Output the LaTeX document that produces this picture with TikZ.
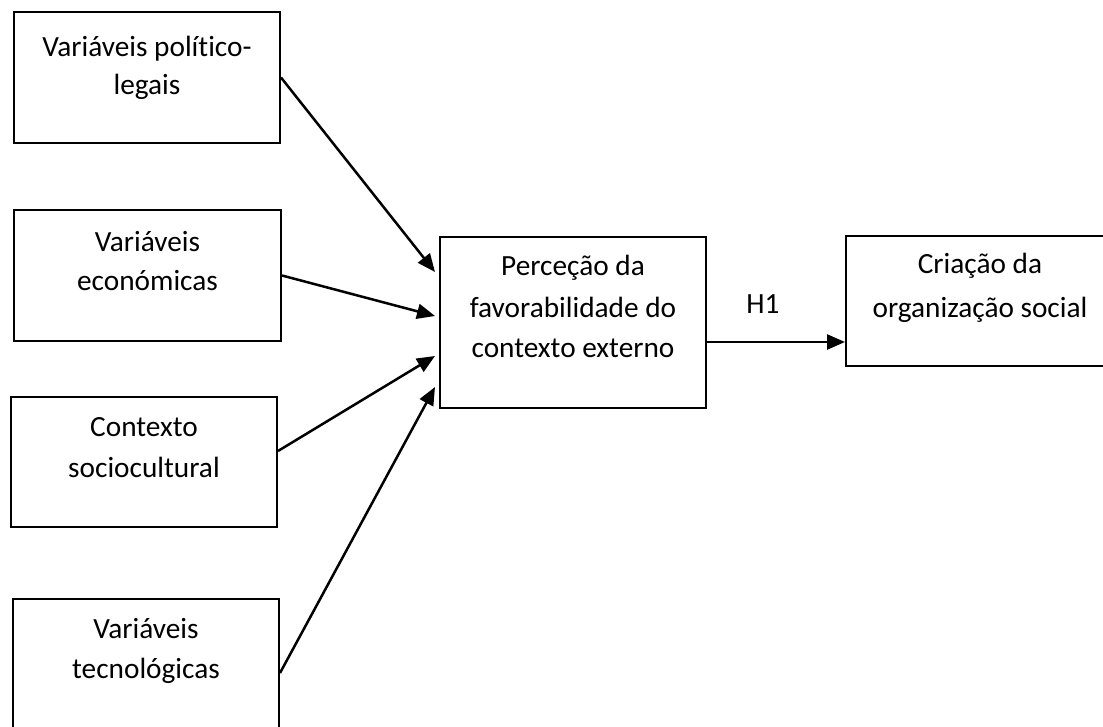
\documentclass[tikz,border=0pt]{standalone}
\usepackage{fontspec}
\setmainfont[Ligatures=NoCommon]{Carlito}
\usetikzlibrary{arrows.meta,calc}
\tikzset{
  box/.style={draw=black, line width=2pt, inner sep=0pt},
  txt/.style={anchor=base, inner sep=0pt, font=\fontsize{29.3}{40}\selectfont},
  arr/.style={line width=2.5pt, -{Triangle[length=18pt,width=15pt]}}
}
\begin{document}
\begin{tikzpicture}[x=1pt,y=-1pt]
\useasboundingbox (0,0) rectangle (1103,727);
% boxes
\node[box, minimum width=266pt, minimum height=131pt] (b1) at (147,77.5) {};
\node[box, minimum width=267pt, minimum height=131pt] (b2) at (147.5,275.5) {};
\node[box, minimum width=266pt, minimum height=130pt] (b3) at (144,462) {};
\node[box, minimum width=266pt, minimum height=148pt] (b4) at (146,673) {};
\node[box, minimum width=266pt, minimum height=171pt] (cb) at (573,322.5) {};
\node[box, minimum width=268pt, minimum height=130pt] (rb) at (980,301) {};
% texts
\node[txt] (t1a) at (147,57) {Variáveis político-};
\node[txt] (t1b) at (147,95) {legais};
\node[txt] (t2a) at (147.5,252) {Variáveis};
\node[txt] (t2b) at (147.5,291) {económicas};
\node[txt] (t3a) at (144,436) {Contexto};
\node[txt] (t3b) at (144,477) {sociocultural};
\node[txt] (t4a) at (146,638) {Variáveis};
\node[txt] (t4b) at (146,678) {tecnológicas};
\node[txt] (tca) at (573,276) {Perceção da};
\node[txt] (tcb) at (573,317) {favorabilidade do};
\node[txt] (tcc) at (573,357) {contexto externo};
\node[txt] (tra) at (980,274) {Criação da};
\node[txt] (trb) at (980,317) {organização social};
\node[txt] (h1) at (763,313) {H1};
% connectors
\draw[arr] (b1.east) -- ($(cb.north west)+(-4,36)$);
\draw[arr] (b2.east) -- ($(cb.north west)+(-4,80)$);
\draw[arr] ($(b3.east)+(0,-11)$) -- ($(cb.north west)+(-4,120)$);
\draw[arr] (b4.east) -- ($(cb.north west)+(-4,151)$);
\draw[arr] ($(cb.north east)+(0,106)$) -- ($(rb.north west)+(0,107)$);
\end{tikzpicture}
\end{document}
